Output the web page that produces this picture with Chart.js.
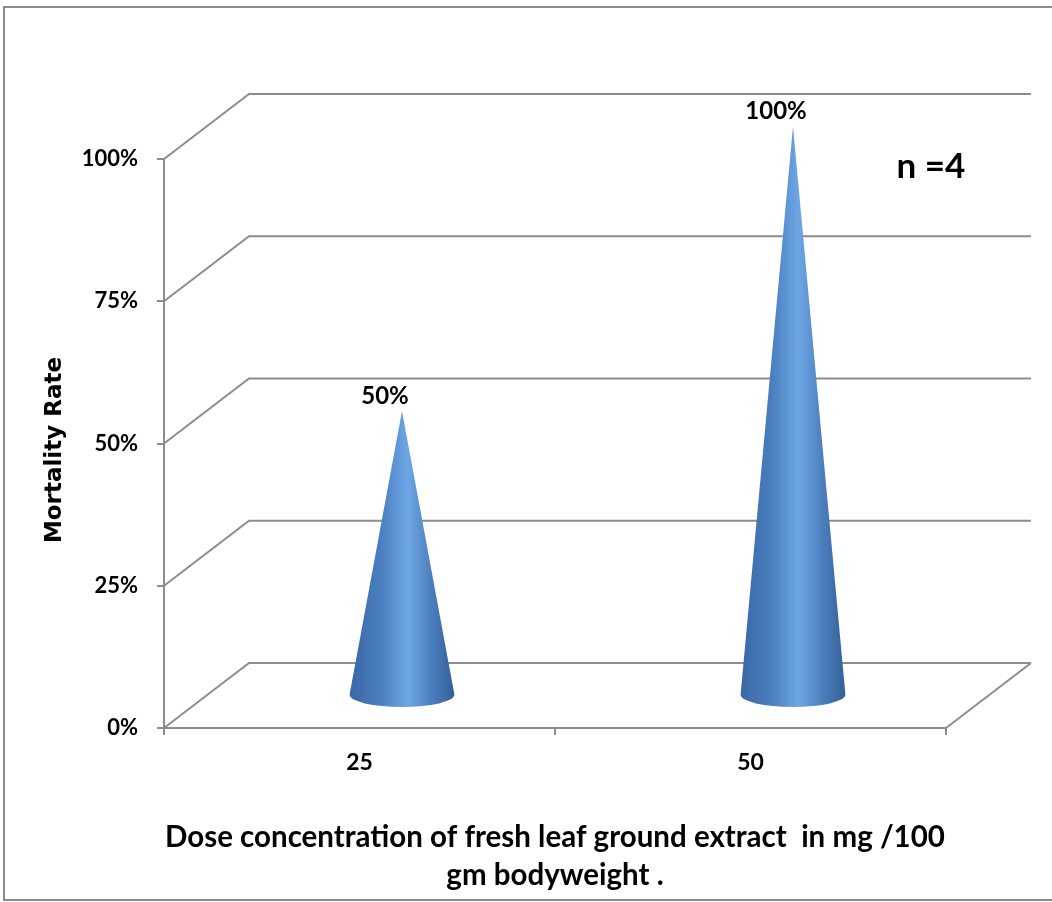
<!DOCTYPE html>
<html lang="en">
  <head>
    <meta charset="UTF-8" />
    <title>Mortality Rate</title>
    <style>
      body { margin: 0; background: #fff; }
      canvas { display: block; }
    </style>
  </head>
  <body>
    <canvas id="coneChart" width="1052" height="902"></canvas>

    <script src="https://cdn.jsdelivr.net/npm/chart.js"></script>
    <script>
      // data
      const categories = ["25", "50"];
      const mortality = [0.5, 1.0];
      const yTicks = [0, 0.25, 0.5, 0.75, 1];
      const xTitle = ["Dose concentration of fresh leaf ground extract  in mg /100", "gm bodyweight ."];
      const yTitle = "Mortality Rate";
      const note = "n =4";

      // depth of the fake 3d box
      const DX = 85;
      const DY = 65;
      const GRID = "#8d8d8d";
      const FONT = "Lato";

      const pct = (v) => Math.round(v * 100) + "%";

      const frame3d = {
        id: "frame3d",
        beforeDraw(chart) {
          const ctx = chart.ctx;
          ctx.save();
          ctx.fillStyle = "#fff";
          ctx.fillRect(0, 0, chart.width, chart.height);
          ctx.strokeStyle = "#8a8a8a";
          ctx.lineWidth = 2;
          ctx.strokeRect(4, 7, 1100, 893);
          ctx.restore();
        },
        beforeDatasetsDraw(chart) {
          const { ctx, chartArea: a, scales } = chart;
          const y = scales.y;
          ctx.save();
          ctx.strokeStyle = GRID;
          ctx.lineWidth = 2;
          yTicks.forEach((v) => {
            const py = y.getPixelForValue(v);
            ctx.beginPath();
            ctx.moveTo(a.left, py);
            ctx.lineTo(a.left + DX, py - DY);
            ctx.lineTo(a.right + DX, py - DY);
            ctx.stroke();
          });
          // right edge of the floor
          ctx.beginPath();
          ctx.moveTo(a.right, a.bottom);
          ctx.lineTo(a.right + DX, a.bottom - DY);
          ctx.stroke();

          // y axis title
          ctx.translate(55, 450);
          ctx.rotate(-Math.PI / 2);
          ctx.fillStyle = "#000";
          ctx.font = "bold 23px 'DejaVu Sans'";
          ctx.textAlign = "center";
          ctx.textBaseline = "middle";
          ctx.fillText(yTitle, 0, 0);
          ctx.restore();
        },
        afterDatasetsDraw(chart) {
          const ctx = chart.ctx;
          const meta = chart.getDatasetMeta(0);
          meta.data.forEach((bar, i) => {
            const cx = bar.x + DX / 2;
            const tipY = bar.y - DY / 2;
            const baseY = bar.base - DY / 2;
            const rx = bar.width / 2;
            const ry = rx * 0.24;

            const g = ctx.createLinearGradient(cx - rx, 0, cx + rx, 0);
            g.addColorStop(0, "#3a67a4");
            g.addColorStop(0.3, "#4b7fc0");
            g.addColorStop(0.55, "#6ea6e4");
            g.addColorStop(0.8, "#4a7cbb");
            g.addColorStop(1, "#335f98");

            ctx.save();
            ctx.fillStyle = g;
            ctx.beginPath();
            ctx.moveTo(cx, tipY);
            ctx.lineTo(cx + rx, baseY);
            ctx.ellipse(cx, baseY, rx, ry, 0, 0, Math.PI);
            ctx.closePath();
            ctx.fill();
            ctx.restore();

            // value label
            ctx.save();
            ctx.fillStyle = "#000";
            ctx.font = "bold 24px " + FONT;
            ctx.textAlign = "center";
            ctx.textBaseline = "middle";
            ctx.fillText(pct(mortality[i]), cx - 17, tipY - 15);
            ctx.restore();
          });

          ctx.save();
          ctx.fillStyle = "#000";
          ctx.font = "bold 35px " + FONT;
          ctx.textAlign = "center";
          ctx.textBaseline = "middle";
          ctx.fillText(note, 931, 167);
          ctx.restore();
        },
      };

      const ctx = document.getElementById("coneChart").getContext("2d");
      const coneChart = new Chart(ctx, {
        type: "bar",
        data: {
          labels: categories,
          datasets: [
            {
              label: yTitle,
              data: mortality,
              backgroundColor: "rgba(0,0,0,0)",
              borderWidth: 0,
              categoryPercentage: 1,
              barPercentage: 0.268,
            },
          ],
        },
        options: {
          responsive: false,
          animation: false,
          layout: { padding: { top: 159, right: 106, left: 0, bottom: 0 } },
          plugins: {
            legend: { display: false },
            tooltip: { enabled: false },
          },
          scales: {
            x: {
              afterFit(s) { s.height = 902 - 728; },
              grid: {
                display: true,
                drawOnChartArea: false,
                drawTicks: true,
                tickLength: 7,
                color: GRID,
                lineWidth: 2,
              },
              border: { display: true, color: GRID, width: 2 },
              ticks: {
                color: "#000",
                padding: 14,
                font: { family: FONT, size: 23, weight: "bold" },
              },
              title: {
                display: true,
                text: xTitle,
                color: "#000",
                padding: { top: 0, bottom: 7 },
                font: { family: FONT, size: 29.5, weight: "bold", lineHeight: 1.29 },
              },
            },
            y: {
              min: 0,
              max: 1,
              afterFit(s) { s.width = 164; },
              afterBuildTicks(s) { s.ticks = yTicks.map((v) => ({ value: v })); },
              grid: {
                display: true,
                drawOnChartArea: false,
                drawTicks: true,
                tickLength: 7,
                color: GRID,
                lineWidth: 2,
              },
              border: { display: true, color: GRID, width: 2 },
              ticks: {
                color: "#000",
                padding: 19,
                callback: (v) => pct(v),
                font: { family: FONT, size: 22, weight: "bold" },
              },
              title: { display: false },
            },
          },
        },
        plugins: [frame3d],
      });
    </script>
  </body>
</html>
